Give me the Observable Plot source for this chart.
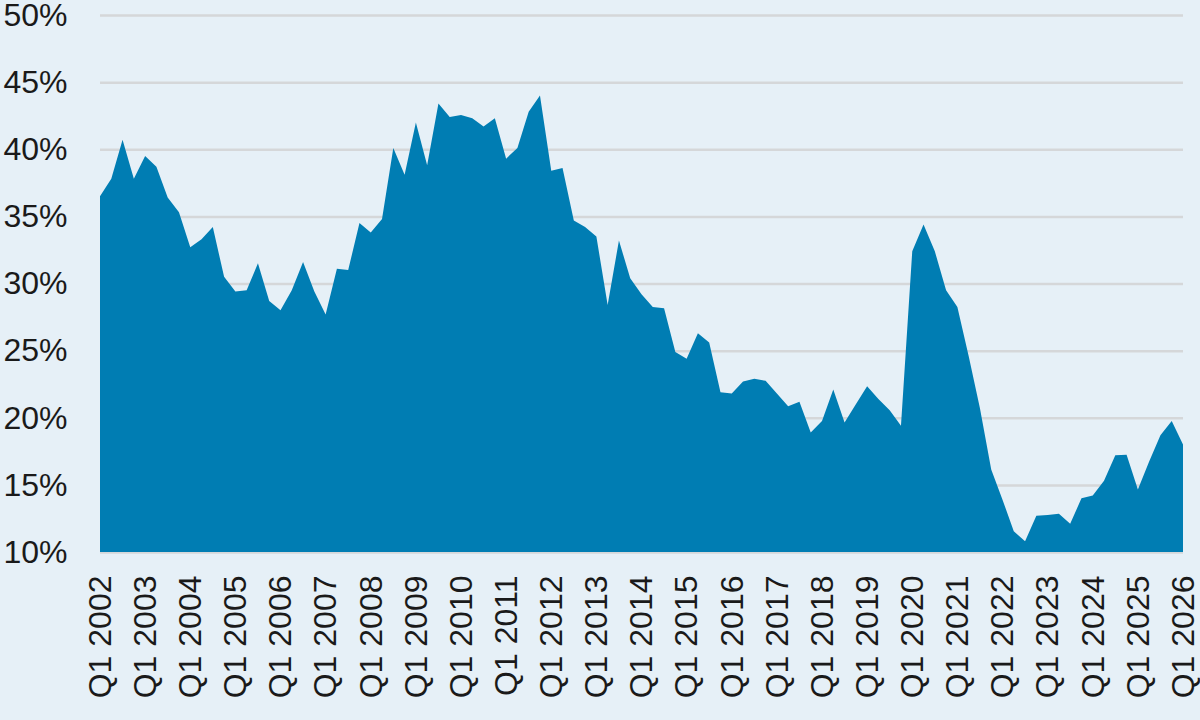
<!DOCTYPE html>
<html>
<head>
<meta charset="utf-8">
<script src="https://cdn.jsdelivr.net/npm/d3@7"></script>
<script src="https://cdn.jsdelivr.net/npm/@observablehq/plot@0.6"></script>
<style>
  html, body { margin: 0; padding: 0; background: #e6f0f7; }
  #chart { width: 1200px; height: 720px; }
  svg { font-family: "Liberation Sans", Arial, Helvetica, sans-serif; }
</style>
</head>
<body>
<div id="chart"></div>
<script>
// Quarterly series, Q1 2002 .. Q1 2026 (percent)
const startYear = 2002;
const values = [
  36.5, 37.8, 40.7, 37.8, 39.5, 38.7, 36.4, 35.3,   // 2002-2003
  32.7, 33.3, 34.2, 30.5, 29.4, 29.5, 31.5, 28.7,   // 2004-2005
  28.0, 29.5, 31.6, 29.4, 27.7, 31.1, 31.0, 34.5,   // 2006-2007
  33.8, 34.8, 40.1, 38.1, 42.0, 38.8, 43.4, 42.4,   // 2008-2009
  42.55, 42.3, 41.7, 42.3, 39.3, 40.1, 42.8, 44.0,  // 2010-2011
  38.4, 38.6, 34.7, 34.2, 33.5, 28.4, 33.2, 30.4,   // 2012-2013
  29.2, 28.25, 28.15, 24.9, 24.4, 26.3, 25.6, 21.9, // 2014-2015
  21.8, 22.7, 22.9, 22.75, 21.8, 20.85, 21.2, 18.9, // 2016-2017
  19.75, 22.1, 19.65, 21.0, 22.35, 21.4, 20.55, 19.4, // 2018-2019
  32.4, 34.4, 32.4, 29.5, 28.25, 24.6, 20.7, 16.15, // 2020-2021
  13.9, 11.55, 10.8, 12.7, 12.75, 12.85, 12.1, 14.0, // 2022-2023
  14.2, 15.3, 17.2, 17.25, 14.65, 16.75, 18.7, 19.75, // 2024-2025
  18.0                                               // Q1 2026
];
const quarterLabels = values.map((_, i) => `Q${(i % 4) + 1} ${startYear + Math.floor(i / 4)}`);
const xTickIndices = values.map((_, i) => i).filter(i => i % 4 === 0);
const yTicks = [10, 15, 20, 25, 30, 35, 40, 45, 50];

const data = values.map((v, i) => ({i, v, label: quarterLabels[i]}));

const chart = Plot.plot({
  width: 1200,
  height: 720,
  marginLeft: 100,
  marginRight: 17,
  marginTop: 15,
  marginBottom: 168,
  style: {background: "#e6f0f7", fontSize: "32px", color: "#1a1a1a", fontFamily: "'Liberation Sans', Arial, Helvetica, sans-serif"},
  x: {domain: [0, values.length - 1]},
  y: {domain: [10, 50]},
  marks: [
    Plot.gridY(yTicks, {stroke: "#d5d7d9", strokeOpacity: 1, strokeWidth: 2.5}),
    Plot.areaY(data, {x: "i", y1: 10, y2: "v", fill: "#007db3", curve: "linear"}),
    Plot.axisY(yTicks, {tickSize: 0, tickPadding: 33, tickFormat: d => `${d}%`, label: null, fontSize: 32, fill: "#1a1a1a"}),
    Plot.axisX(xTickIndices, {tickSize: 0, tickPadding: 23, tickRotate: -90, tickFormat: i => quarterLabels[i], label: null, fontSize: 32, fill: "#1a1a1a"})
  ]
});
document.getElementById("chart").appendChild(chart);
</script>
</body>
</html>
